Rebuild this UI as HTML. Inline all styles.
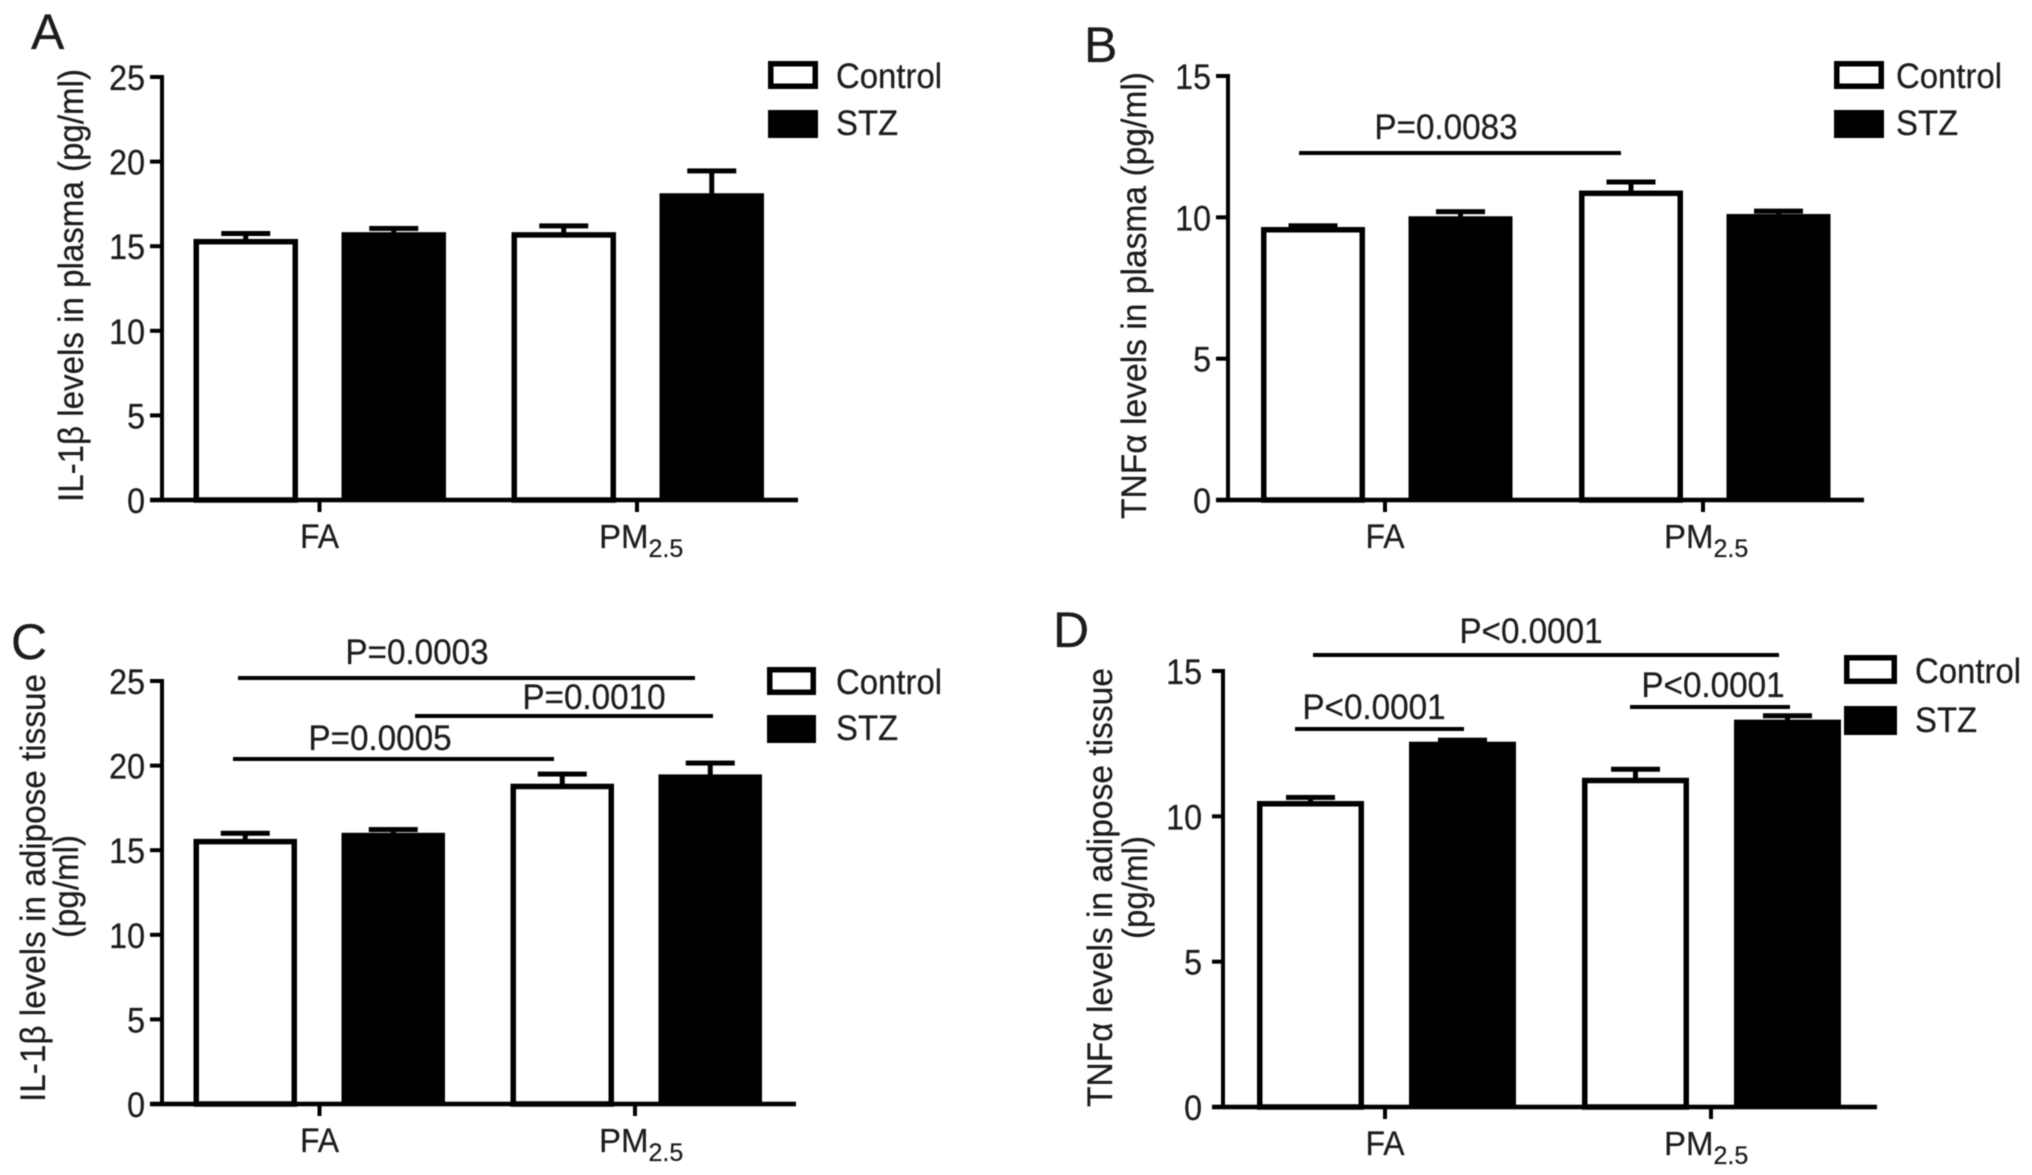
<!DOCTYPE html>
<html lang="en">
<head>
<meta charset="utf-8">
<title>Cytokine levels in plasma and adipose tissue</title>
<style>
html,body{margin:0;padding:0;background:#fff;width:2032px;height:1175px;overflow:hidden}
svg{display:block;filter:blur(0.55px)}
text{font-family:"Liberation Sans",sans-serif;fill:#1c1c1c;stroke:#1c1c1c;stroke-width:0.25px}
</style>
</head>
<body>
<svg id="figure" xmlns="http://www.w3.org/2000/svg" width="2032" height="1175" viewBox="0 0 2032 1175"></svg>
<script>
// ---- shared categories and legend ----
const groupLabels = ["FA", "PM"];
const seriesNames = ["Control", "STZ"];

// ---- Panel A: IL-1beta in plasma ----
const ticksA = [0, 5, 10, 15, 20, 25];
const controlA = [15.4, 15.8];
const controlErrA = [15.75, 16.2];
const stzA = [15.8, 18.1];
const stzErrA = [16.05, 19.45];

// ---- Panel B: TNF-alpha in plasma ----
const ticksB = [0, 5, 10, 15];
const controlB = [9.64, 10.93];
const controlErrB = [9.7, 11.25];
const stzB = [10.02, 10.1];
const stzErrB = [10.2, 10.22];

// ---- Panel C: IL-1beta in adipose tissue ----
const ticksC = [0, 5, 10, 15, 20, 25];
const controlC = [15.64, 18.9];
const controlErrC = [16.0, 19.5];
const stzC = [16.0, 19.45];
const stzErrC = [16.22, 20.15];

// ---- Panel D: TNF-alpha in adipose tissue ----
const ticksD = [0, 5, 10, 15];
const controlD = [10.51, 11.31];
const controlErrD = [10.65, 11.62];
const stzD = [12.55, 13.31];
const stzErrD = [12.62, 13.46];

const NS = "http://www.w3.org/2000/svg";
const root = document.getElementById("figure");

function mk(parent, tag, name, props, txt) {
  const el = document.createElementNS(NS, tag);
  
  
  for (const k in props) el.setAttribute(k, props[k]);
  if (txt !== undefined) el.textContent = txt;
  parent.appendChild(el);
  return el;
}
function rect(p, name, x, y, w, h, fill) {
  return mk(p, "rect", name, {x: x, y: y, width: w, height: h, fill: fill || "#000"});
}
// taller, narrower glyphs: keep the width while the font size grows
function condense(el, factor) {
  const natural = el.getComputedTextLength();
  el.setAttribute("textLength", natural * factor);
  el.setAttribute("lengthAdjust", "spacingAndGlyphs");
  return el;
}

function panel(c) {
  const g = mk(root, "g", "panel-" + c.id, {});
  const yMax = c.ticks[c.ticks.length - 1];
  const yScale = v => c.y0 - (v / yMax) * (c.y0 - c.yTop);
  const barX = (group, series) => c.barStart + group * c.groupStep + series * c.innerStep;
  const bw = c.barWidth, sw = 5.5, capW = 49, capH = 5, stem = 5;

  mk(g, "text", "panel-letter-" + c.id, {x: c.letter[0], y: c.letter[1], "font-size": 50}, c.id);

  // bars and error bars
  const seriesVals = [c.control, c.stz];
  const seriesErr = [c.controlErr, c.stzErr];
  seriesVals.forEach((vals, s) => {
    vals.forEach((v, i) => {
      const x = barX(i, s), top = yScale(v), errTop = yScale(seriesErr[s][i]);
      const cx = x + bw / 2;
      rect(g, "error-stem-" + seriesNames[s].toLowerCase() + "-" + i, cx - stem / 2, errTop, stem, top - errTop + 2);
      rect(g, "error-cap-" + seriesNames[s].toLowerCase() + "-" + i, cx - capW / 2, errTop - capH / 2, capW, capH);
      if (s === 0) {
        mk(g, "rect", "bar-control-" + groupLabels[i].toLowerCase(), {
          x: x + sw / 2, y: top + sw / 2 - 0.5, width: bw - sw, height: c.y0 - top - sw / 2 + 0.5,
          fill: "#fff", stroke: "#000", "stroke-width": sw
        });
      } else {
        rect(g, "bar-stz-" + groupLabels[i].toLowerCase(), x, top - 0.5, bw, c.y0 - top + 0.5);
      }
    });
  });

  // y axis
  rect(g, "y-axis-line", c.axisX - 2, c.yTop - 2, 4, c.y0 - c.yTop + 4);
  c.ticks.forEach(t => {
    const y = yScale(t);
    rect(g, "y-tick-" + t, c.xStart, y - 2, c.axisX - c.xStart, 4);
    const lab = mk(g, "text", "y-tick-label-" + t, {
      x: c.labelRight, y: y + 13, "font-size": 35, "text-anchor": "end"
    }, String(t));
    condense(lab, 0.92);
  });

  // x axis
  rect(g, "x-axis-line", c.xStart, c.y0 - 2.3, c.xEnd - c.xStart, 4.6);
  groupLabels.forEach((name, i) => {
    const tx = c.tickStart + i * c.tickStep;
    rect(g, "x-tick-" + name.toLowerCase(), tx - 2, c.y0, 4, 12);
    if (i === 0) {
      const fa = mk(g, "text", "x-label-fa", {x: tx, y: c.y0 + 48, "font-size": 34, "text-anchor": "middle"}, name);
      condense(fa, 0.94);
    } else {
      const t = mk(g, "text", "x-label-pm25", {x: c.pmX, y: c.y0 + 48, "font-size": 33}, name);
      const sub = mk(t, "tspan", "x-label-pm25-subscript", {"font-size": 25, dy: 9}, "2.5");
    }
  });

  // y title
  c.title.forEach((line, i) => {
    mk(g, "text", i === 0 ? "y-axis-title" : "y-axis-title-line-2", {
      transform: "translate(" + line.x + "," + line.y + ") rotate(-90)",
      "font-size": 35, textLength: line.len, lengthAdjust: "spacingAndGlyphs"
    }, line.text);
  });

  // legend
  const L = c.legend;
  mk(g, "rect", "legend-swatch-control", {
    x: L.x + 2.75, y: L.y1 + 2.75, width: L.w - 5.5, height: L.h - 5.5,
    fill: "#fff", stroke: "#000", "stroke-width": 5.5
  });
  condense(mk(g, "text", "legend-label-control", {x: L.tx, y: L.y1 + L.h - 1, "font-size": 35}, seriesNames[0]), 0.94);
  rect(g, "legend-swatch-stz", L.x, L.y2, L.w, L.h);
  condense(mk(g, "text", "legend-label-stz", {x: L.tx, y: L.y2 + L.h - 3, "font-size": 35}, seriesNames[1]), 0.94);

  // significance brackets
  c.sig.forEach((s, i) => {
    rect(g, "significance-line-" + (i + 1), s.x1, s.y - 2, s.x2 - s.x1, 4);
    const lab = mk(g, "text", "significance-label-" + (i + 1), {
      x: s.tx, y: s.ty, "font-size": 35, "text-anchor": "middle"
    }, s.text);
    condense(lab, 0.95);
  });
}

panel({
  id: "A", ticks: ticksA, control: controlA, controlErr: controlErrA, stz: stzA, stzErr: stzErrA,
  letter: [31, 49], axisX: 162, y0: 500, yTop: 77, xStart: 150, xEnd: 798, labelRight: 145,
  barStart: 193.5, groupStep: 318, innerStep: 148, barWidth: 104.5, tickStart: 319.5, tickStep: 317.5, pmX: 599,
  title: [{text: "IL-1β levels in plasma (pg/ml)", x: 83, y: 502, len: 433}],
  legend: {x: 768, w: 50, h: 28, y1: 61, y2: 110, tx: 836},
  sig: []
});

panel({
  id: "B", ticks: ticksB, control: controlB, controlErr: controlErrB, stz: stzB, stzErr: stzErrB,
  letter: [1084, 62], axisX: 1228, y0: 500, yTop: 76, xStart: 1216, xEnd: 1864, labelRight: 1211,
  barStart: 1261, groupStep: 318, innerStep: 147.5, barWidth: 104, tickStart: 1385, tickStep: 318, pmX: 1664,
  title: [{text: "TNFα levels in plasma (pg/ml)", x: 1146, y: 519, len: 447}],
  legend: {x: 1834, w: 50, h: 28, y1: 61, y2: 110, tx: 1896},
  sig: [{text: "P=0.0083", x1: 1299, x2: 1621, y: 153, tx: 1446, ty: 139}]
});

panel({
  id: "C", ticks: ticksC, control: controlC, controlErr: controlErrC, stz: stzC, stzErr: stzErrC,
  letter: [11, 659], axisX: 162, y0: 1104, yTop: 681, xStart: 150, xEnd: 796, labelRight: 145,
  barStart: 193.5, groupStep: 317, innerStep: 148, barWidth: 103.5, tickStart: 319.5, tickStep: 315.5, pmX: 599,
  title: [
    {text: "IL-1β levels in adipose tissue", x: 45, y: 1102, len: 428},
    {text: "(pg/ml)", x: 78, y: 938, len: 103}
  ],
  legend: {x: 767, w: 49, h: 28, y1: 667, y2: 715, tx: 836},
  sig: [
    {text: "P=0.0003", x1: 238, x2: 695, y: 678, tx: 417, ty: 664},
    {text: "P=0.0010", x1: 415, x2: 713, y: 716, tx: 594, ty: 709},
    {text: "P=0.0005", x1: 233, x2: 554, y: 759, tx: 380, ty: 750}
  ]
});

panel({
  id: "D", ticks: ticksD, control: controlD, controlErr: controlErrD, stz: stzD, stzErr: stzErrD,
  letter: [1053, 647], axisX: 1223, y0: 1107, yTop: 671, xStart: 1212, xEnd: 1877, labelRight: 1202,
  barStart: 1257, groupStep: 325, innerStep: 152, barWidth: 107, tickStart: 1385, tickStep: 326, pmX: 1664,
  title: [
    {text: "TNFα levels in adipose tissue", x: 1112, y: 1107, len: 439},
    {text: "(pg/ml)", x: 1147, y: 939, len: 103}
  ],
  legend: {x: 1844, w: 53, h: 29, y1: 655, y2: 706, tx: 1915},
  sig: [
    {text: "P<0.0001", x1: 1313, x2: 1779, y: 655, tx: 1531, ty: 643},
    {text: "P<0.0001", x1: 1295, x2: 1464, y: 729, tx: 1374, ty: 719},
    {text: "P<0.0001", x1: 1630, x2: 1790, y: 707, tx: 1713, ty: 697}
  ]
});
</script>
</body>
</html>
